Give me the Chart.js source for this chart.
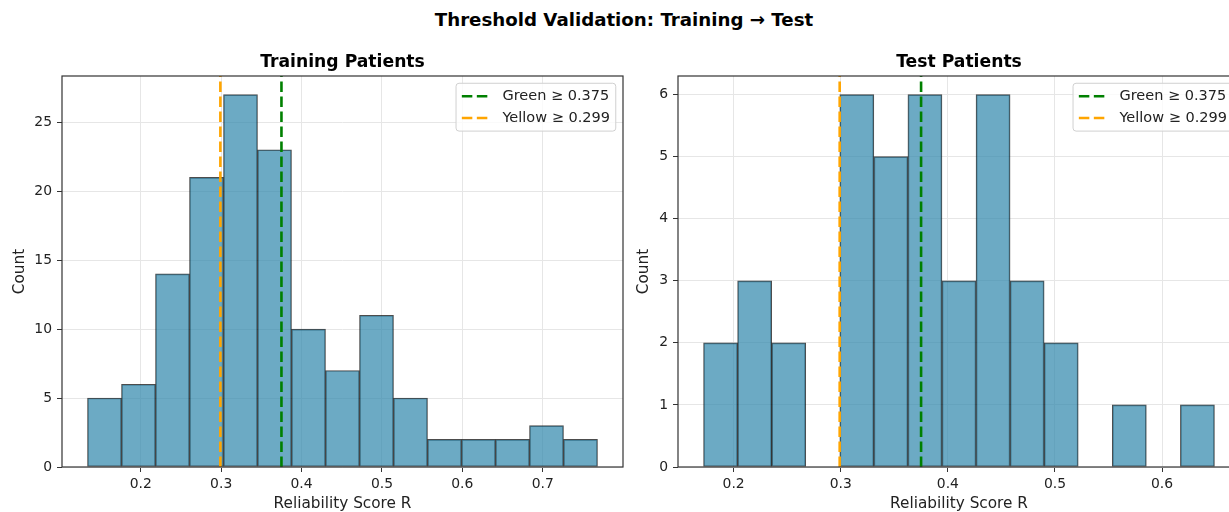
<!DOCTYPE html>
<html>
<head>
<meta charset="utf-8">
<script src="https://cdn.jsdelivr.net/npm/chart.js@4"></script>
<style>
  html, body { margin: 0; padding: 0; background: #fff; }
  body { width: 1229px; height: 512px; overflow: hidden; position: relative; }
  #suptitle {
    position: absolute; left: 0; top: 9px; width: 1248px; line-height: 24px;
    text-align: center; font: bold 18.2px "DejaVu Sans", sans-serif; color: #000;
  }
  canvas { position: absolute; top: 0; }
  #trainChart { left: 0; }
  #testChart { left: 630px; }
</style>
</head>
<body>
<div id="suptitle">Threshold Validation: Training → Test</div>
<canvas id="trainChart" width="630" height="512"></canvas>
<canvas id="testChart" width="630" height="512"></canvas>
<script>
// histogram bin edges and counts
const trainEdges = [0.1337, 0.1760, 0.2183, 0.2606, 0.3029, 0.3452, 0.3875, 0.4298, 0.4721, 0.5144, 0.5567, 0.5990, 0.6413, 0.6836, 0.7259, 0.7682];
const trainCounts = [5, 6, 14, 21, 27, 23, 10, 7, 11, 5, 2, 2, 2, 3, 2];
const testEdges = [0.1719, 0.2037, 0.2355, 0.2673, 0.2991, 0.3309, 0.3627, 0.3945, 0.4263, 0.4581, 0.4899, 0.5217, 0.5535, 0.5853, 0.6171, 0.6489];
const testCounts = [2, 3, 2, 0, 6, 5, 6, 3, 6, 3, 2, 0, 1, 0, 1];

const thresholdValues = [0.375, 0.299];
const thresholdLabels = ['Green ≥ 0.375', 'Yellow ≥ 0.299'];
const thresholdColors = ['green', 'orange'];

Chart.defaults.font.family = '"DejaVu Sans", sans-serif';
Chart.defaults.color = '#222';

// spines on all four sides (matplotlib style)
const frame = {
  id: 'frame',
  afterDatasetsDraw(chart) {
    const { ctx, chartArea: a } = chart;
    ctx.save();
    ctx.strokeStyle = '#333';
    ctx.lineWidth = 1.2;
    ctx.strokeRect(a.left, a.top, a.right - a.left, a.bottom - a.top);
    ctx.restore();
  }
};

// legend inside the axes, upper right
const insideLegend = {
  id: 'insideLegend',
  afterDraw(chart) {
    const { ctx, chartArea: a } = chart;
    const fs = 14.5;
    const items = chart.data.datasets.filter(d => d.type === 'line');
    ctx.save();
    ctx.font = fs + 'px "DejaVu Sans", sans-serif';
    const textW = Math.max(...items.map(d => ctx.measureText(d.label).width));
    const pad = 0.4 * fs, handle = 2 * fs, gap = 0.8 * fs, rowH = 1.0 * fs, spacing = 0.5 * fs;
    const w = pad * 2 + handle + gap + textW;
    const h = pad * 2 + rowH * items.length + spacing * (items.length - 1);
    const x = a.right - 0.5 * fs - w;
    const y = a.top + 0.5 * fs;
    ctx.beginPath();
    ctx.roundRect(x, y, w, h, 3);
    ctx.fillStyle = 'rgba(255,255,255,0.8)';
    ctx.fill();
    ctx.strokeStyle = '#d0d0d0';
    ctx.lineWidth = 1;
    ctx.stroke();
    items.forEach((d, i) => {
      const cy = y + pad + rowH / 2 + i * (rowH + spacing);
      ctx.setLineDash(d.borderDash);
      ctx.strokeStyle = d.borderColor;
      ctx.lineWidth = d.borderWidth;
      ctx.beginPath();
      ctx.moveTo(x + pad, cy);
      ctx.lineTo(x + pad + handle, cy);
      ctx.stroke();
      ctx.setLineDash([]);
      ctx.fillStyle = '#222';
      ctx.textBaseline = 'middle';
      ctx.fillText(d.label, x + pad + handle + gap, cy);
    });
    ctx.restore();
  }
};

function makeHist(id, title, edges, counts, o) {
  const centers = counts.map((c, i) => ({ x: (edges[i] + edges[i + 1]) / 2, y: c }));
  const span = edges[edges.length - 1] - edges[0];
  const xMin = edges[0] - 0.05 * span;
  const xMax = edges[edges.length - 1] + 0.05 * span;
  const yMax = Math.max(...counts) * 1.05;

  const lines = thresholdValues.map((v, i) => ({
    type: 'line',
    label: thresholdLabels[i],
    data: [{ x: v, y: 0 }, { x: v, y: yMax }],
    borderColor: thresholdColors[i],
    borderWidth: 2.6,
    borderDash: [10.5, 4.5],
    pointRadius: 0,
    fill: false,
    order: 1
  }));

  return new Chart(document.getElementById(id), {
    type: 'bar',
    data: {
      datasets: [{
        type: 'bar',
        label: 'Count',
        data: centers,
        backgroundColor: 'rgba(46,134,171,0.7)',
        borderColor: 'rgba(0,0,0,0.7)',
        borderWidth: 1,
        borderSkipped: false,
        barPercentage: 1,
        categoryPercentage: 1,
        order: 2
      }, ...lines]
    },
    options: {
      responsive: false,
      devicePixelRatio: 1,
      animation: false,
      layout: { padding: { left: 0, right: o.padRight, top: 0, bottom: 0 } },
      plugins: {
        legend: { display: false },
        tooltip: { enabled: false },
        title: {
          display: true,
          text: title,
          fullSize: false,
          color: '#000',
          font: { size: 17.2, weight: 'bold', lineHeight: 1.2 },
          padding: { top: 52.2, bottom: 3.16 }
        }
      },
      scales: {
        x: {
          type: 'linear',
          min: xMin,
          max: xMax,
          offset: false,
          afterFit: s => { s.height = 45; },
          grid: { offset: false, color: '#e6e6e6', lineWidth: 1, tickLength: 5, tickColor: '#333', tickWidth: 1 },
          border: { display: false },
          ticks: { stepSize: 0.1, includeBounds: false, padding: 4, font: { size: 13.9 }, color: '#222',
                   callback: v => v.toFixed(1) },
          title: { display: true, text: 'Reliability Score R', font: { size: 15.3, lineHeight: 1.1 },
                   color: '#222', padding: { top: 0, bottom: 0 } }
        },
        y: {
          min: 0,
          max: yMax,
          afterFit: s => { s.width = o.yWidth; },
          grid: { color: '#e6e6e6', lineWidth: 1, tickLength: 5, tickColor: '#333', tickWidth: 1 },
          border: { display: false },
          ticks: { stepSize: o.yStep, includeBounds: false, padding: 5, font: { size: 13.9 }, color: '#222' },
          title: { display: true, text: 'Count', font: { size: 15.3, lineHeight: 1.2 },
                   color: '#222', padding: { top: o.yTitlePad, bottom: 0 } }
        }
      }
    },
    plugins: [frame, insideLegend]
  });
}

makeHist('trainChart', 'Training Patients', trainEdges, trainCounts,
  { padRight: 7, yWidth: 62, yTitlePad: 11, yStep: 5 });
makeHist('testChart', 'Test Patients', testEdges, testCounts,
  { padRight: 20, yWidth: 48, yTitlePad: 5, yStep: 1 });
</script>
</body>
</html>
